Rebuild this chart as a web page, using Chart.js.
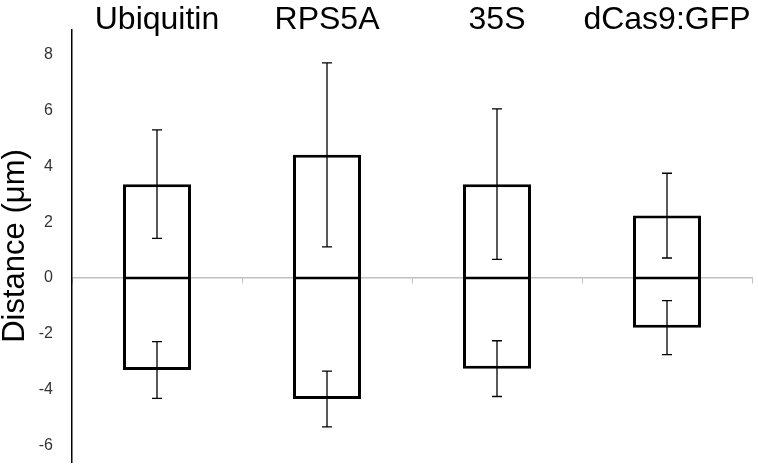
<!DOCTYPE html>
<html>
<head>
<meta charset="utf-8">
<script src="https://cdn.jsdelivr.net/npm/chart.js@4.4.1/dist/chart.umd.min.js"></script>
<style>
html, body { margin: 0; padding: 0; background: #fff; }
#wrap { width: 758px; height: 464px; }
</style>
</head>
<body>
<div id="wrap"><canvas id="distChart"></canvas></div>
<script>
// values
const categories = ['Ubiquitin', 'RPS5A', '35S', 'dCas9:GFP'];
const upValues = [3.37, 4.42, 3.37, 2.24];
const upErrors = [1.95, 3.3, 2.7, 1.52];
const downValues = [-3.3, -4.34, -3.25, -1.78];
const downErrors = [1.02, 1.0, 1.0, 0.97];
const yTicks = [-6, -4, -2, 0, 2, 4, 6, 8];

const fontFamily = "'Liberation Sans', Arial, sans-serif";

// draws whiskers with caps on top of each bar
const errorBars = {
    id: 'errorBars',
    afterDatasetsDraw(chart) {
        const ctx = chart.ctx;
        const yScale = chart.scales.y;
        ctx.save();
        ctx.strokeStyle = '#000';
        ctx.lineWidth = 1.3;
        chart.data.datasets.forEach((ds, i) => {
            const meta = chart.getDatasetMeta(i);
            meta.data.forEach((bar, j) => {
                const v = ds.data[j];
                const e = ds.errors[j];
                const yTop = yScale.getPixelForValue(v + e);
                const yBot = yScale.getPixelForValue(v - e);
                const x = bar.x;
                ctx.beginPath();
                ctx.moveTo(x, yTop); ctx.lineTo(x, yBot);
                ctx.moveTo(x - 5, yTop); ctx.lineTo(x + 5, yTop);
                ctx.moveTo(x - 5, yBot); ctx.lineTo(x + 5, yBot);
                ctx.stroke();
            });
        });
        ctx.restore();
    }
};

const ctx = document.getElementById('distChart').getContext('2d');

const chart = new Chart(ctx, {
    type: 'bar',
    data: {
        labels: categories,
        datasets: [
            {
                label: 'up',
                data: upValues,
                errors: upErrors,
                backgroundColor: '#fff',
                borderColor: '#000',
                borderWidth: { top: 3, left: 3, right: 3, bottom: 1.5 },
                borderSkipped: false,
                categoryPercentage: 0.4,
                barPercentage: 1
            },
            {
                label: 'down',
                data: downValues,
                errors: downErrors,
                backgroundColor: '#fff',
                borderColor: '#000',
                borderWidth: { top: 1.5, left: 3, right: 3, bottom: 3 },
                borderSkipped: false,
                categoryPercentage: 0.4,
                barPercentage: 1
            }
        ]
    },
    options: {
        responsive: true,
        maintainAspectRatio: false,
        animation: false,
        layout: { padding: { left: 0, right: 6, top: 0, bottom: 2 } },
        plugins: {
            legend: { display: false },
            tooltip: { enabled: false }
        },
        scales: {
            x: {
                stacked: true,
                position: { y: 0 },
                afterFit: scale => { scale.height = 0; },
                grid: { display: true, drawOnChartArea: false, drawTicks: true, tickLength: 5, color: '#bfbfbf', offset: true },
                border: { color: '#bfbfbf', width: 1.5 },
                ticks: { display: false }
            },
            x2: {
                type: 'category',
                position: 'top',
                labels: categories,
                offset: true,
                afterFit: scale => {
                    scale.height = 30;
                    scale.paddingLeft = 0;
                    scale.paddingRight = 0;
                },
                grid: { display: false },
                border: { display: false },
                ticks: {
                    color: '#000', mirror: true, padding: -29, maxRotation: 0, minRotation: 0, autoSkip: false,
                    font: { family: fontFamily, size: 32 }
                }
            },
            y: {
                stacked: true,
                min: -6.6,
                max: 8.9,
                afterBuildTicks: scale => { scale.ticks = yTicks.map(v => ({ value: v })); },
                afterFit: scale => {
                    scale.width = 72;
                    scale.paddingTop = 0;
                    scale.paddingBottom = 0;
                },
                grid: { display: false },
                border: { color: '#000', width: 1.5 },
                ticks: { color: '#333', padding: 11, font: { family: fontFamily, size: 16 } },
                title: {
                    display: true,
                    text: 'Distance (μm)',
                    color: '#000',
                    padding: { top: -3, bottom: 0 },
                    font: { family: fontFamily, size: 31 }
                }
            }
        }
    },
    plugins: [errorBars]
});
</script>
</body>
</html>
